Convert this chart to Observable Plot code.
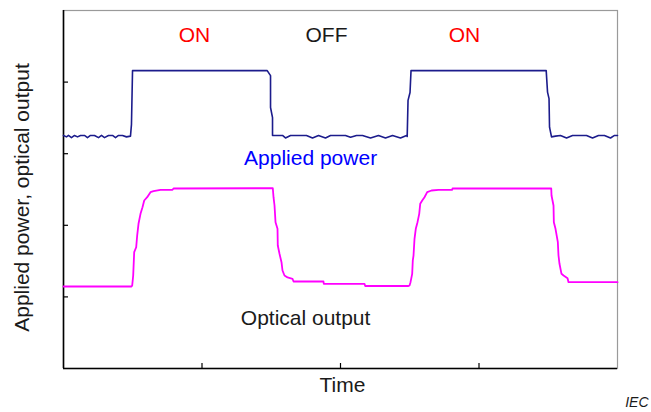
<!DOCTYPE html>
<html><head><meta charset="utf-8">
<script src="https://cdn.jsdelivr.net/npm/d3@7"></script>
<script src="https://cdn.jsdelivr.net/npm/@observablehq/plot@0.6"></script>
<style>body{margin:0;background:#fff;} svg{display:block;}</style>
</head><body><div id="chart"></div>
<script>
// Time axis (arbitrary units 0–100) and signal level (arbitrary units 0–100)
const xTicks = [25, 50, 75];
const yTicks = [20, 40, 60, 80];

// Applied power trace
const powerT = [0, 0.54, 0.90, 1.44, 1.99, 2.53, 3.07, 3.79, 4.33, 4.87, 5.60, 6.32, 6.86, 7.40, 8.12, 8.85, 9.39, 9.93, 10.65, 11.37, 12.09,
  12.27, 12.46, 36.77, 37.37, 37.37, 37.73, 37.73,
  38.45, 39.53, 40.07, 40.98, 42.06, 42.78, 43.86, 44.95, 46.03, 47.29, 48.20, 49.64, 50.90, 51.81, 52.89, 53.97, 55.42, 56.86, 58.12, 59.39, 60.83, 61.92,
  62.04, 62.19, 62.55, 62.73, 87.13, 87.37, 87.64, 87.73, 88.09,
  88.81, 89.71, 90.80, 91.88, 93.32, 94.41, 95.49, 96.57, 97.65, 98.74, 99.46, 100];
const powerV = [65.1, 64.7, 65.1, 64.5, 65.1, 64.7, 65.1, 65.1, 64.5, 65.1, 65.1, 64.5, 65.1, 64.5, 65.1, 65.1, 64.5, 65.1, 65.1, 64.7, 64.9,
  68.2, 83.2, 83.2, 81.8, 72.9, 70.1, 65.1,
  65.1, 65.1, 64.4, 65.1, 65.1, 65.1, 65.1, 64.4, 65.1, 64.4, 65.1, 65.1, 65.1, 64.6, 65.1, 65.1, 64.4, 65.1, 64.4, 65.1, 64.4, 65.1,
  64.8, 74.9, 77.1, 83.2, 83.2, 77.2, 75.4, 67.4, 64.7,
  64.9, 65.1, 64.4, 65.1, 65.1, 65.1, 64.4, 65.1, 65.1, 64.4, 65.1, 65.1];

// Optical output trace
const opticT = [0, 12.27, 12.40, 12.58, 12.76, 13.12, 13.30, 13.54, 13.90, 14.26, 14.57, 15.11, 15.70, 16.25, 17.51, 19.68, 19.86,
  37.78, 37.91, 38.09, 38.27, 38.63, 38.68, 38.99, 39.35, 39.53, 39.89, 40.44, 41.34, 41.52, 46.93, 46.99, 54.33, 54.46, 62.28,
  62.46, 62.64, 62.94, 63.05, 63.18, 63.36, 63.59, 63.90, 64.21, 64.39, 64.75, 65.16, 65.65, 66.43, 67.69, 70.16, 70.22, 88.04,
  88.09, 88.45, 88.51, 88.81, 89.23, 89.35, 89.53, 89.89, 90.26, 90.98, 91.16, 100];
const opticV = [22.9, 22.9, 23.18, 25.98, 32.49, 33.88, 37.15, 40.42, 43.21, 45.06, 46.93, 47.85, 49.25, 49.53, 49.92, 49.92, 50.28,
  50.36, 47.85, 45.53, 40.87, 39.02, 34.36, 32.04, 29.69, 27.37, 25.98, 25.42, 25.06, 24.30, 24.30, 23.66, 23.66, 23.04, 23.04,
  23.18, 24.11, 26.45, 30.17, 31.56, 36.23, 39.02, 40.87, 43.21, 46.00, 46.93, 47.85, 49.25, 49.72, 49.92, 49.92, 50.28, 50.28,
  48.32, 45.53, 40.87, 39.02, 35.28, 31.56, 29.25, 26.45, 25.98, 25.22, 24.11, 24.11];

// Annotations
const annotText = ["ON", "OFF", "ON", "Applied power", "Optical output"];
const annotT = [23.65, 47.47, 72.38, 44.6, 43.7];
const annotV = [93.0, 93.0, 93.0, 58.7, 14.0];
const annotColor = ["#ff0000", "#1a1a1a", "#ff0000", "#0000ff", "#1a1a1a"];

const xLabel = "Time";
const yLabel = "Applied power, optical output";
const credit = "IEC";

const powerRows = powerT.map((t, i) => ({t, v: powerV[i]}));
const opticRows = opticT.map((t, i) => ({t, v: opticV[i]}));
const annots = annotText.map((text, i) => ({text, t: annotT[i], v: annotV[i], color: annotColor[i]}));

const FONT = 'Arial, "Liberation Sans", sans-serif';

const chart = Plot.plot({
  width: 651, height: 412,
  marginLeft: 63, marginRight: 34, marginTop: 10, marginBottom: 44,
  style: {fontFamily: FONT, background: "#fff", overflow: "visible"},
  x: {domain: [0, 100]},
  y: {domain: [0, 100]},
  color: {type: "identity"},
  marks: [
    Plot.frame({stroke: "#9a9a9a", strokeWidth: 1.2}),
    Plot.axisX({ticks: xTicks, tickFormat: () => "", tickSize: -5, label: null, stroke: "#000", strokeWidth: 1.2}),
    Plot.axisY({ticks: yTicks, tickFormat: () => "", tickSize: -5, label: null, stroke: "#000", strokeWidth: 1.2}),
    Plot.ruleX([0], {stroke: "#000", strokeWidth: 1.6}),
    Plot.ruleY([0], {stroke: "#000", strokeWidth: 1.6}),
    Plot.line(powerRows, {x: "t", y: "v", stroke: "#1c1c8c", strokeWidth: 1.6}),
    Plot.line(opticRows, {x: "t", y: "v", stroke: "#ff00ff", strokeWidth: 1.8}),
    Plot.text(annots, {x: "t", y: "v", text: "text", fill: "color", fontSize: 21, textAnchor: "middle"}),
    Plot.text([xLabel], {frameAnchor: "bottom", dy: 23, dx: 2, fontSize: 21, fill: "#1a1a1a", textAnchor: "middle"}),
    Plot.text([yLabel], {frameAnchor: "left", dx: -41, dy: 8, rotate: -90, fontSize: 21, fill: "#1a1a1a", textAnchor: "middle", lineAnchor: "middle"}),
    Plot.text([credit], {frameAnchor: "bottom-right", dx: 31, dy: 38, textAnchor: "end", fontSize: 14, fontStyle: "italic", fill: "#1a1a1a"})
  ]
});
document.getElementById("chart").appendChild(chart);
</script>
</body></html>
